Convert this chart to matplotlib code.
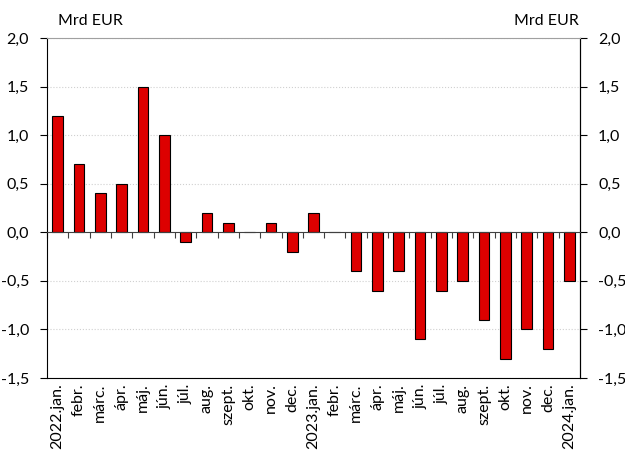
import matplotlib.pyplot as plt
import numpy as np

# Adatok (Mrd EUR)
honapok = ['2022.jan.', 'febr.', 'márc.', 'ápr.', 'máj.', 'jún.', 'júl.', 'aug.',
           'szept.', 'okt.', 'nov.', 'dec.', '2023.jan.', 'febr.', 'márc.', 'ápr.',
           'máj.', 'jún.', 'júl.', 'aug.', 'szept.', 'okt.', 'nov.', 'dec.', '2024.jan.']
ertekek = [1.2, 0.7, 0.4, 0.5, 1.5, 1.0, -0.1, 0.2, 0.1, 0.0, 0.1, -0.2, 0.2,
           0.0, -0.4, -0.6, -0.4, -1.1, -0.6, -0.5, -0.9, -1.3, -1.0, -1.2, -0.5]
y_ticks = [-1.5, -1.0, -0.5, 0.0, 0.5, 1.0, 1.5, 2.0]
y_labels = ['-1,5', '-1,0', '-0,5', '0,0', '0,5', '1,0', '1,5', '2,0']

plt.rcParams['font.family'] = ['Lato', 'DejaVu Sans']
plt.rcParams['font.size'] = 11.5

fig = plt.figure(figsize=(6.25, 4.5), dpi=100, facecolor='white')
ax = fig.add_axes([0.0752, 0.16, 0.8528, 0.7556])

x = np.arange(len(honapok))
ax.bar(x, ertekek, width=0.5, color='#DD0000', edgecolor='black', linewidth=0.8, zorder=3)

ax.set_xlim(-0.5, len(honapok) - 0.5)
ax.set_ylim(-1.5, 2.0)

# Rácsvonalak
for v in y_ticks:
    if v != 0:
        ax.axhline(v, color='#D0D0D0', linestyle=':', linewidth=0.8, zorder=1)

# Vízszintes tengely a nullánál, osztásokkal a kategóriák között
ax.spines['bottom'].set_position(('data', 0))
ax.spines['bottom'].set_color('#404040')
ax.spines['bottom'].set_zorder(4)
ax.set_xticks(np.arange(len(honapok) + 1) - 0.5)
ax.tick_params(axis='x', direction='out', length=4, color='#404040', labelbottom=False)

ax.spines['top'].set_color('#A0A0A0')
ax.spines['left'].set_color('black')
ax.spines['right'].set_color('black')

# Bal oldali y tengely
ax.set_yticks(y_ticks)
ax.set_yticklabels(y_labels)
ax.tick_params(axis='y', direction='out', length=5, pad=8)

# Jobb oldali y tengely
ax2 = ax.secondary_yaxis('right')
ax2.set_yticks(y_ticks)
ax2.set_yticklabels(y_labels)
ax2.tick_params(axis='y', direction='out', length=5, pad=8)

# Hónap feliratok alul
sec = ax.secondary_xaxis(0)
sec.set_xticks(x)
sec.set_xticklabels(honapok, rotation=90, va='top', ha='center')
sec.tick_params(axis='x', length=0, pad=4)
sec.spines['bottom'].set_color('black')

# Mértékegység
ax.text(0.02, 1.03, 'Mrd EUR', transform=ax.transAxes, ha='left', va='bottom')
ax.text(0.998, 1.03, 'Mrd EUR', transform=ax.transAxes, ha='right', va='bottom')

plt.savefig('out.png', dpi=100, facecolor='white')
plt.close()
